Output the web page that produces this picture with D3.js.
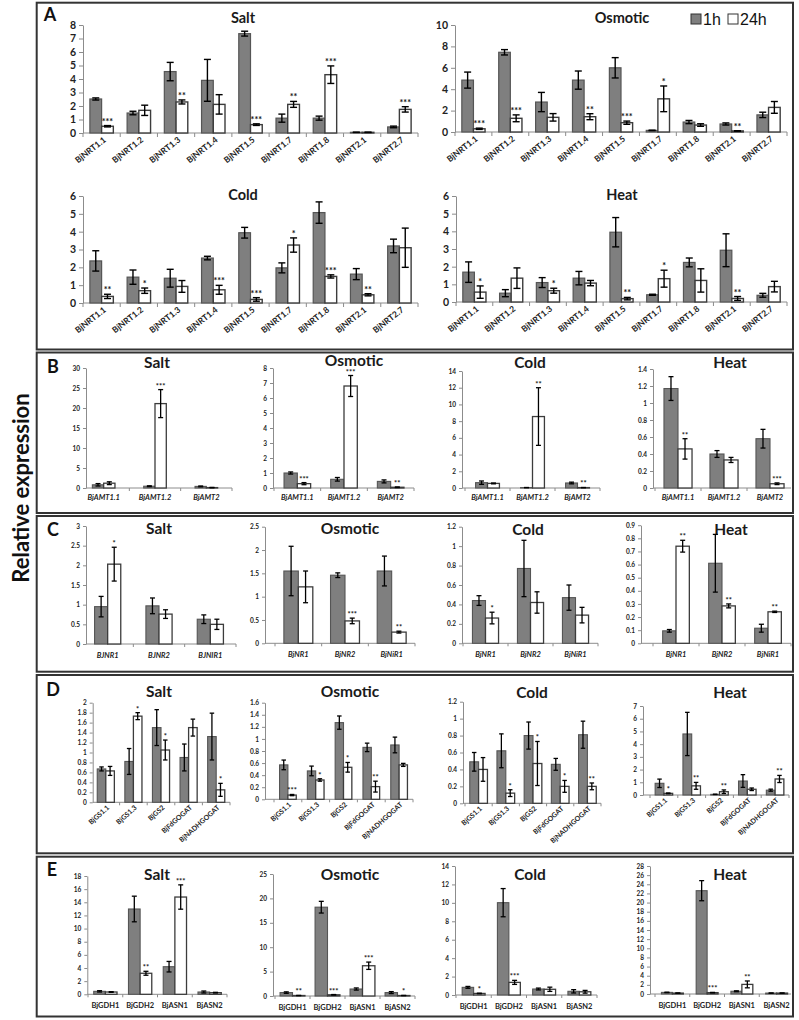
<!DOCTYPE html>
<html><head><meta charset="utf-8">
<script src="https://cdn.jsdelivr.net/npm/d3@7"></script>
<style>
body{margin:0;background:#fff;}
svg{display:block;font-family:Lato,"Open Sans",sans-serif;}
</style></head><body>
<svg id="chart" width="799" height="1020"></svg>
<script>
// ---------- categories ----------
const nrtGenes = ["BjNRT1.1","BjNRT1.2","BjNRT1.3","BjNRT1.4","BjNRT1.5","BjNRT1.7","BjNRT1.8","BjNRT2.1","BjNRT2.7"];
const amtGenes = ["BjAMT1.1","BjAMT1.2","BjAMT2"];
const nrGenesSalt = ["BJNR1","BJNR2","BJNIR1"];
const nrGenes = ["BjNR1","BjNR2","BjNiR1"];
const gsGenes = ["BjGS1.1","BjGS1.3","BjGS2","BjFdGOGAT","BjNADHGOGAT"];
const gdhGenes = ["BjGDH1","BjGDH2","BjASN1","BjASN2"];
const seriesNames = ["1h","24h"];

// ---------- A: NRT ----------
const aSalt1h = [2.52,1.48,4.55,3.9,7.36,1.1,1.1,0.05,0.45];
const aSalt1hSd = [0.08,0.13,0.68,1.55,0.18,0.3,0.15,0.01,0.06];
const aSalt24h = [0.5,1.68,2.3,2.12,0.62,2.12,4.32,0.05,1.75];
const aSalt24hSd = [0.05,0.38,0.15,0.72,0.06,0.22,0.65,0.01,0.2];
const aSaltSig = ["***","","**","","***","**","***","","***"];

const aOsm1h = [4.85,7.45,2.8,4.85,6.0,0.15,0.93,0.75,1.6];
const aOsm1hSd = [0.75,0.25,0.9,0.85,0.95,0.02,0.15,0.1,0.25];
const aOsm24h = [0.3,1.28,1.37,1.43,0.87,3.1,0.65,0.1,2.3];
const aOsm24hSd = [0.06,0.32,0.35,0.28,0.15,1.2,0.12,0.02,0.55];
const aOsmSig = ["***","***","","**","***","*","","**",""];

const aCold1h = [2.36,1.45,1.39,2.52,3.94,1.97,5.07,1.62,3.2];
const aCold1hSd = [0.57,0.4,0.5,0.1,0.3,0.28,0.6,0.31,0.38];
const aCold24h = [0.37,0.69,0.93,0.74,0.2,3.25,1.49,0.46,3.1];
const aCold24hSd = [0.12,0.15,0.33,0.25,0.1,0.4,0.09,0.06,1.1];
const aColdSig = ["**","*","","***","***","*","***","**",""];

const aHeat1h = [1.69,0.5,1.1,1.35,3.95,0.41,2.24,2.93,0.38];
const aHeat1hSd = [0.58,0.2,0.28,0.38,0.83,0.03,0.25,0.93,0.11];
const aHeat24h = [0.56,1.35,0.64,1.07,0.19,1.32,1.22,0.2,0.87];
const aHeat24hSd = [0.35,0.58,0.14,0.15,0.07,0.48,0.66,0.11,0.3];
const aHeatSig = ["*","","*","","**","*","","**",""];

// ---------- B: AMT ----------
const bSalt1h = [0.8,0.45,0.4];   const bSalt1hSd = [0.3,0.1,0.1];
const bSalt24h = [1.2,21.1,0.1];  const bSalt24hSd = [0.35,3.5,0.05];
const bSaltSig = ["","***",""];
const bOsm1h = [1.0,0.58,0.44];   const bOsm1hSd = [0.07,0.12,0.1];
const bOsm24h = [0.29,6.8,0.05];  const bOsm24hSd = [0.07,0.7,0.02];
const bOsmSig = ["***","***","**"];
const bCold1h = [0.64,0.05,0.6];  const bCold1hSd = [0.2,0.01,0.1];
const bCold24h = [0.55,8.55,0.05]; const bCold24hSd = [0.05,3.45,0.01];
const bColdSig = ["","**","**"];
const bHeat1h = [1.17,0.4,0.58];  const bHeat1hSd = [0.14,0.04,0.11];
const bHeat24h = [0.46,0.33,0.05]; const bHeat24hSd = [0.12,0.03,0.01];
const bHeatSig = ["**","","***"];

// ---------- C: NR / NiR ----------
const cSalt1h = [0.95,0.97,0.63];  const cSalt1hSd = [0.26,0.2,0.11];
const cSalt24h = [2.03,0.76,0.5];  const cSalt24hSd = [0.43,0.11,0.13];
const cSaltSig = ["*","",""];
const cOsm1h = [1.55,1.46,1.55];   const cOsm1hSd = [0.53,0.05,0.32];
const cOsm24h = [1.21,0.48,0.24];  const cOsm24hSd = [0.34,0.06,0.02];
const cOsmSig = ["","***","**"];
const cCold1h = [0.44,0.77,0.47];  const cCold1hSd = [0.05,0.29,0.13];
const cCold24h = [0.26,0.42,0.29]; const cCold24hSd = [0.06,0.11,0.08];
const cColdSig = ["*","",""];
const cHeat1h = [0.095,0.61,0.115]; const cHeat1hSd = [0.01,0.22,0.03];
const cHeat24h = [0.74,0.285,0.24]; const cHeat24hSd = [0.045,0.015,0.005];
const cHeatSig = ["**","**","**"];

// ---------- D: GS / GOGAT ----------
const dSalt1h = [0.67,0.82,1.5,0.9,1.32];  const dSalt1hSd = [0.04,0.26,0.36,0.27,0.47];
const dSalt24h = [0.63,1.73,1.05,1.5,0.25]; const dSalt24hSd = [0.09,0.07,0.2,0.17,0.13];
const dSaltSig = ["","*","*","","*"];
const dOsm1h = [0.57,0.47,1.27,0.86,0.9];  const dOsm1hSd = [0.08,0.08,0.11,0.07,0.13];
const dOsm24h = [0.07,0.32,0.53,0.21,0.57]; const dOsm24hSd = [0.01,0.02,0.08,0.09,0.025];
const dOsmSig = ["***","*","*","**",""];
const dCold1h = [0.49,0.62,0.8,0.46,0.81];  const dCold1hSd = [0.11,0.2,0.16,0.07,0.16];
const dCold24h = [0.4,0.12,0.47,0.2,0.2];   const dCold24hSd = [0.14,0.04,0.26,0.07,0.04];
const dColdSig = ["","*","*","*","**"];
const dHeat1h = [0.92,4.8,0.05,1.1,0.38];   const dHeat1hSd = [0.33,1.7,0.01,0.5,0.08];
const dHeat24h = [0.13,0.72,0.26,0.45,1.26]; const dHeat24hSd = [0.03,0.27,0.14,0.1,0.28];
const dHeatSig = ["*","**","**","","**"];

// ---------- E: GDH / ASN ----------
const eSalt1h = [0.45,12.98,4.2,0.35];  const eSalt1hSd = [0.1,1.95,0.8,0.15];
const eSalt24h = [0.35,3.2,14.8,0.25];  const eSalt24hSd = [0.05,0.3,1.85,0.05];
const eSaltSig = ["","**","***",""];
const eOsm1h = [0.7,18.2,1.43,0.7];     const eOsm1hSd = [0.15,1.2,0.22,0.2];
const eOsm24h = [0.1,0.25,6.2,0.1];     const eOsm24hSd = [0.02,0.05,0.75,0.02];
const eOsmSig = ["**","***","***","*"];
const eCold1h = [0.83,10.02,0.65,0.4];  const eCold1hSd = [0.1,1.53,0.1,0.18];
const eCold24h = [0.17,1.37,0.62,0.35]; const eCold24hSd = [0.03,0.22,0.23,0.15];
const eColdSig = ["*","***","",""];
const eHeat1h = [0.35,22.6,0.6,0.2];    const eHeat1hSd = [0.05,2.2,0.1,0.02];
const eHeat24h = [0.2,0.3,2.1,0.2];     const eHeat24hSd = [0.02,0.05,0.75,0.02];
const eHeatSig = ["","***","**",""];

// ---------- tick labels ----------
const ticksASalt = [0,1,2,3,4,5,6,7,8];
const ticksAOsm = [0,2,4,6,8,10];
const ticksACold = [0,1,2,3,4,5,6];
const ticksAHeat = [0,1,2,3,4,5,6];
const ticksBSalt = [0,5,10,15,20,25,30];
const ticksBOsm = [0,1,2,3,4,5,6,7,8];
const ticksBCold = [0,2,4,6,8,10,12,14];
const ticksBHeat = [0,0.2,0.4,0.6,0.8,1,1.2,1.4];
const ticksCSalt = [0,0.5,1,1.5,2,2.5,3];
const ticksCOsm = [0,0.5,1,1.5,2,2.5];
const ticksCCold = [0,0.2,0.4,0.6,0.8,1,1.2];
const ticksCHeat = [0,0.1,0.2,0.3,0.4,0.5,0.6,0.7,0.8,0.9];
const ticksDSalt = [0,0.2,0.4,0.6,0.8,1,1.2,1.4,1.6,1.8,2];
const ticksDOsm = [0,0.2,0.4,0.6,0.8,1,1.2,1.4,1.6];
const ticksDCold = [0,0.2,0.4,0.6,0.8,1,1.2];
const ticksDHeat = [0,1,2,3,4,5,6,7];
const ticksESalt = [0,2,4,6,8,10,12,14,16,18];
const ticksEOsm = [0,5,10,15,20,25];
const ticksECold = [0,2,4,6,8,10,12,14];
const ticksEHeat = [0,2,4,6,8,10,12,14,16,18,20,22,24,26,28];

// ---------- drawing ----------
const svg = d3.select("#chart");
const GRAY = "#7f7f7f", DARK = "#3c3c3c", AXIS = "#8c8c8c";

// panel frames
const frames = [
  {id:"A", y0:2.7, y1:349.5, lx:50, ly:21},
  {id:"B", y0:352.5, y1:513, lx:53, ly:373},
  {id:"C", y0:516, y1:671.7, lx:53, ly:536},
  {id:"D", y0:675, y1:853.3, lx:53, ly:696},
  {id:"E", y0:856.7, y1:1016.5, lx:52, ly:876}
];
frames.forEach(f => {
  svg.append("rect").attr("x",36.7).attr("y",f.y0).attr("width",793-36.7).attr("height",f.y1-f.y0)
    .attr("fill","none").attr("stroke","#333").attr("stroke-width",2);
  svg.append("text").attr("x",f.lx).attr("y",f.ly).attr("text-anchor","middle")
    .attr("font-size",18).attr("font-weight","bold").attr("fill","#111").text(f.id);
});

svg.append("text").attr("transform","translate(29,488) rotate(-90)").attr("text-anchor","middle")
  .attr("font-size",22).attr("font-weight","bold").attr("fill","#111").text("Relative expression");

const styles = {
  A:{tickFont:10.5, labFont:8.5, rot:-38, italic:false, labDx:5, labDy:8, cap:7, errW:1.4, star:9, title:14.5, tick:4, barStroke:1.2},
  B:{tickFont:6.5, labFont:7.5, rot:0, italic:true, labDy:12, cap:5, errW:1.3, star:7.5, title:15.5, tick:3, barStroke:1.1},
  C:{tickFont:6.5, labFont:7.5, rot:0, italic:true, labDy:14, cap:5, errW:1.3, star:7.5, title:15.5, tick:3, barStroke:1.1},
  D:{tickFont:6.5, labFont:7, rot:-42, italic:false, labDx:4, labDy:6, cap:4.5, errW:1.3, star:7.5, title:15.5, tick:3, barStroke:1.1},
  E:{tickFont:6.5, labFont:7.5, rot:0, italic:false, labDy:14, cap:5, errW:1.3, star:7.5, title:15.5, tick:3, barStroke:1.1}
};

const subplots = [
  {p:"A", title:"Salt", genes:nrtGenes, v1:aSalt1h, s1:aSalt1hSd, v2:aSalt24h, s2:aSalt24hSd, sig:aSaltSig, ticks:ticksASalt,
   ax:83, bx0:83, bx1:418, y0:133, yTop:25, frac:0.63, tx:243, ty:23},
  {p:"A", title:"Osmotic", genes:nrtGenes, v1:aOsm1h, s1:aOsm1hSd, v2:aOsm24h, s2:aOsm24hSd, sig:aOsmSig, ticks:ticksAOsm,
   ax:455, bx0:455, bx1:787, y0:132, yTop:25, frac:0.63, tx:622, ty:23},
  {p:"A", title:"Cold", genes:nrtGenes, v1:aCold1h, s1:aCold1hSd, v2:aCold24h, s2:aCold24hSd, sig:aColdSig, ticks:ticksACold,
   ax:83, bx0:83, bx1:418, y0:303, yTop:196, frac:0.63, tx:243, ty:200},
  {p:"A", title:"Heat", genes:nrtGenes, v1:aHeat1h, s1:aHeat1hSd, v2:aHeat24h, s2:aHeat24hSd, sig:aHeatSig, ticks:ticksAHeat,
   ax:456, bx0:456, bx1:787, y0:302, yTop:196, frac:0.63, tx:622, ty:200},

  {p:"B", title:"Salt", genes:amtGenes, v1:bSalt1h, s1:bSalt1hSd, v2:bSalt24h, s2:bSalt24hSd, sig:bSaltSig, ticks:ticksBSalt,
   ax:86, bx0:78, bx1:232, y0:488, yTop:368, frac:0.44, tx:157, ty:368},
  {p:"B", title:"Osmotic", genes:amtGenes, v1:bOsm1h, s1:bOsm1hSd, v2:bOsm24h, s2:bOsm24hSd, sig:bOsmSig, ticks:ticksBOsm,
   ax:273, bx0:274, bx1:414, y0:488, yTop:368, frac:0.57, tx:354, ty:365.5},
  {p:"B", title:"Cold", genes:amtGenes, v1:bCold1h, s1:bCold1hSd, v2:bCold24h, s2:bCold24hSd, sig:bColdSig, ticks:ticksBCold,
   ax:462, bx0:465, bx1:600, y0:488, yTop:371, frac:0.53, tx:530, ty:368},
  {p:"B", title:"Heat", genes:amtGenes, v1:bHeat1h, s1:bHeat1hSd, v2:bHeat24h, s2:bHeat24hSd, sig:bHeatSig, ticks:ticksBHeat,
   ax:653, bx0:655, bx1:793, y0:488, yTop:369, frac:0.61, tx:730, ty:368},

  {p:"C", title:"Salt", genes:nrGenesSalt, v1:cSalt1h, s1:cSalt1hSd, v2:cSalt24h, s2:cSalt24hSd, sig:cSaltSig, ticks:ticksCSalt,
   ax:86, bx0:82, bx1:236, y0:644, yTop:526, frac:0.51, tx:159, ty:534},
  {p:"C", title:"Osmotic", genes:nrGenes, v1:cOsm1h, s1:cOsm1hSd, v2:cOsm24h, s2:cOsm24hSd, sig:cOsmSig, ticks:ticksCOsm,
   ax:265, bx0:275, bx1:415, y0:643.3, yTop:526.7, frac:0.62, tx:350, ty:534},
  {p:"C", title:"Cold", genes:nrGenes, v1:cCold1h, s1:cCold1hSd, v2:cCold24h, s2:cCold24hSd, sig:cColdSig, ticks:ticksCCold,
   ax:462, bx0:463, bx1:598, y0:643.3, yTop:526.7, frac:0.58, tx:528, ty:535},
  {p:"C", title:"Heat", genes:nrGenes, v1:cHeat1h, s1:cHeat1hSd, v2:cHeat24h, s2:cHeat24hSd, sig:cHeatSig, ticks:ticksCHeat,
   ax:641, bx0:653, bx1:791, y0:643.3, yTop:525.2, frac:0.58, tx:731, ty:535},

  {p:"D", title:"Salt", genes:gsGenes, v1:dSalt1h, s1:dSalt1hSd, v2:dSalt24h, s2:dSalt24hSd, sig:dSaltSig, ticks:ticksDSalt,
   ax:92.7, bx0:92, bx1:230, y0:802.3, yTop:702.7, frac:0.62, tx:159, ty:697},
  {p:"D", title:"Osmotic", genes:gsGenes, v1:dOsm1h, s1:dOsm1hSd, v2:dOsm24h, s2:dOsm24hSd, sig:dOsmSig, ticks:ticksDOsm,
   ax:265, bx0:274, bx1:413, y0:799.3, yTop:702.7, frac:0.6, tx:350, ty:697},
  {p:"D", title:"Cold", genes:gsGenes, v1:dCold1h, s1:dCold1hSd, v2:dCold24h, s2:dCold24hSd, sig:dColdSig, ticks:ticksDCold,
   ax:463, bx0:465, bx1:601, y0:803.3, yTop:701.7, frac:0.65, tx:532, ty:698},
  {p:"D", title:"Heat", genes:gsGenes, v1:dHeat1h, s1:dHeat1hSd, v2:dHeat24h, s2:dHeat24hSd, sig:dHeatSig, ticks:ticksDHeat,
   ax:643, bx0:650, bx1:789, y0:795, yTop:706, frac:0.63, tx:730, ty:698},

  {p:"E", title:"Salt", genes:gdhGenes, v1:eSalt1h, s1:eSalt1hSd, v2:eSalt24h, s2:eSalt24hSd, sig:eSaltSig, ticks:ticksESalt,
   ax:87.3, bx0:88, bx1:227, y0:994.3, yTop:876, frac:0.67, tx:157, ty:880},
  {p:"E", title:"Osmotic", genes:gdhGenes, v1:eOsm1h, s1:eOsm1hSd, v2:eOsm24h, s2:eOsm24hSd, sig:eOsmSig, ticks:ticksEOsm,
   ax:273, bx0:275, bx1:415, y0:996, yTop:874, frac:0.71, tx:350, ty:880},
  {p:"E", title:"Cold", genes:gdhGenes, v1:eCold1h, s1:eCold1hSd, v2:eCold24h, s2:eCold24hSd, sig:eColdSig, ticks:ticksECold,
   ax:455, bx0:456, bx1:597, y0:995, yTop:866, frac:0.65, tx:530, ty:880},
  {p:"E", title:"Heat", genes:gdhGenes, v1:eHeat1h, s1:eHeat1hSd, v2:eHeat24h, s2:eHeat24hSd, sig:eHeatSig, ticks:ticksEHeat,
   ax:650, bx0:655, bx1:794, y0:994, yTop:866, frac:0.63, tx:730, ty:880}
];

const fmt = d3.format("~g");

subplots.forEach(s => {
  const st = styles[s.p];
  const g = svg.append("g");
  const x = d3.scaleBand().domain(s.genes).range([s.bx0, s.bx1]).padding(0);
  const maxT = s.ticks[s.ticks.length-1];
  const y = d3.scaleLinear().domain([0, maxT]).range([s.y0, s.yTop]);
  const bw = x.bandwidth()*s.frac/2;

  // title
  g.append("text").attr("x",s.tx).attr("y",s.ty).attr("text-anchor","middle")
    .attr("font-size",st.title).attr("font-weight","bold").attr("fill","#1a1a1a").text(s.title);

  // y axis
  const ya = g.append("g").attr("transform",`translate(${s.ax},0)`)
    .call(d3.axisLeft(y).tickValues(s.ticks).tickFormat(fmt).tickSize(st.tick).tickSizeOuter(0).tickPadding(3));
  ya.select(".domain").attr("stroke",AXIS);
  ya.selectAll(".tick line").attr("stroke",AXIS);
  ya.selectAll(".tick text").attr("font-size",st.tickFont).attr("font-weight","bold").attr("fill","#222")
    .attr("font-family","Lato, sans-serif");

  // x axis line with category boundary ticks
  const xEnd = Math.min(s.bx1, 791);
  g.append("line").attr("x1",s.ax).attr("x2",xEnd).attr("y1",s.y0).attr("y2",s.y0).attr("stroke",AXIS);
  const bounds = s.genes.map(d => x(d)).concat([s.bx1]).filter(v => v >= s.ax - 0.5 && v <= 791);
  g.selectAll(".xt").data(bounds).join("line")
    .attr("x1",d=>d).attr("x2",d=>d).attr("y1",s.y0).attr("y2",s.y0+st.tick).attr("stroke",AXIS);

  // bars
  const rows = s.genes.map((gname,i) => ({g:gname, i, c:x(gname)+x.bandwidth()/2}));
  rows.forEach(r => {
    const v1 = s.v1[r.i], v2 = s.v2[r.i], e1 = s.s1[r.i], e2 = s.s2[r.i];
    g.append("rect").attr("x",r.c-bw).attr("y",y(v1)).attr("width",bw).attr("height",y(0)-y(v1))
      .attr("fill",GRAY).attr("stroke","#555").attr("stroke-width",st.barStroke);
    g.append("rect").attr("x",r.c).attr("y",y(v2)).attr("width",bw).attr("height",y(0)-y(v2))
      .attr("fill","#fff").attr("stroke",DARK).attr("stroke-width",st.barStroke+0.2);
    [[r.c-bw/2,v1,e1],[r.c+bw/2,v2,e2]].forEach(([cx,v,e]) => {
      const lo = y(Math.max(0,v-e)), hi = y(v+e);
      g.append("line").attr("x1",cx).attr("x2",cx).attr("y1",lo).attr("y2",hi).attr("stroke","#000").attr("stroke-width",st.errW);
      [lo,hi].forEach(yy => g.append("line").attr("x1",cx-st.cap/2).attr("x2",cx+st.cap/2).attr("y1",yy).attr("y2",yy)
        .attr("stroke","#000").attr("stroke-width",st.errW));
    });
    if (s.sig[r.i]) {
      g.append("text").attr("x",r.c+bw/2).attr("y",y(v2+e2)-1).attr("text-anchor","middle")
        .attr("font-size",st.star).attr("font-weight","bold").attr("fill","#111").text(s.sig[r.i]);
    }
    // category label
    const lab = g.append("text").attr("font-size",st.labFont).attr("font-weight","bold").attr("fill","#222")
      .attr("font-style",st.italic?"italic":"normal").text(r.g);
    if (st.rot) {
      lab.attr("text-anchor","end")
        .attr("transform",`translate(${r.c+st.labDx},${s.y0+st.labDy}) rotate(${st.rot})`);
    } else {
      lab.attr("text-anchor","middle").attr("x",r.c).attr("y",s.y0+st.labDy);
    }
  });
});

// legend (panel A)
const LF = "Liberation Sans, Arial, sans-serif";
svg.append("rect").attr("x",691).attr("y",14).attr("width",10).attr("height",10).attr("fill",GRAY).attr("stroke","#333");
svg.append("text").attr("x",703).attr("y",24.5).attr("font-size",16).attr("font-family",LF)
  .attr("fill","#111").text(seriesNames[0]);
svg.append("rect").attr("x",728).attr("y",14).attr("width",10).attr("height",10).attr("fill","#fff").attr("stroke","#333");
svg.append("text").attr("x",740).attr("y",24.5).attr("font-size",16).attr("font-family",LF)
  .attr("fill","#111").text(seriesNames[1]);
</script>
</body></html>
